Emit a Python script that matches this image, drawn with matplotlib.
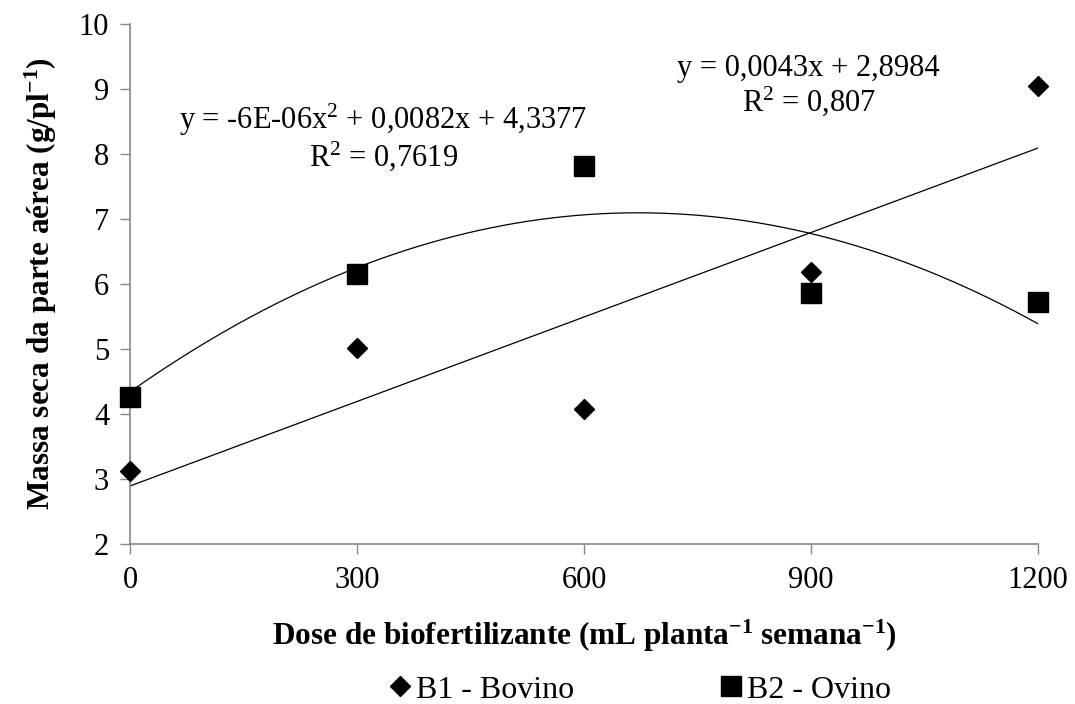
import numpy as np
import matplotlib
matplotlib.use("Agg")
import matplotlib.pyplot as plt
from matplotlib.lines import Line2D

plt.rcParams['font.family'] = ['Liberation Serif', 'DejaVu Serif']
plt.rcParams['mathtext.fontset'] = 'custom'
plt.rcParams['mathtext.rm'] = 'Liberation Serif'
plt.rcParams['mathtext.it'] = 'Liberation Serif:italic'
plt.rcParams['mathtext.bf'] = 'Liberation Serif:bold'

doses = [0, 300, 600, 900, 1200]
b1_bovino = [3.13, 5.02, 4.08, 6.18, 9.05]
b2_ovino = [4.26, 6.16, 7.82, 5.86, 5.72]
y_ticks = [2, 3, 4, 5, 6, 7, 8, 9, 10]
x_ticks = [0, 300, 600, 900, 1200]
eq_b1 = "y = 0,0043x + 2,8984\nR$^2$ = 0,807"
eq_b2 = "y = -6E-06x$^2$ + 0,0082x + 4,3377\nR$^2$ = 0,7619"

fig = plt.figure(figsize=(10.75, 7.04), dpi=100)
ax = fig.add_axes([0.1209, 0.2273, 0.8447, 0.7386])

x = np.array(doses, dtype=float)
xs = np.linspace(0, 1200, 300)
c1 = np.polyfit(x, b1_bovino, 1)
c2 = np.polyfit(x, b2_ovino, 2)
ax.plot(xs, np.polyval(c1, xs), color='black', lw=0.9, zorder=2)
ax.plot(xs, np.polyval(c2, xs), color='black', lw=0.9, zorder=2)

ax.plot(doses, b1_bovino, linestyle='none', marker='D', ms=10.5, color='black', clip_on=False, zorder=3)
ax.plot(doses, b2_ovino, linestyle='none', marker='s', ms=15, color='black', clip_on=False, zorder=3)

ax.set_xlim(0, 1200)
ax.set_ylim(2, 10)
ax.set_xticks(x_ticks)
ax.set_yticks(y_ticks)
ax.tick_params(axis='both', labelsize=22, color='#868686', length=7, width=1, direction='out')
ax.tick_params(axis='x', pad=9)
ax.tick_params(axis='y', pad=8)
for s in ['top', 'right']:
    ax.spines[s].set_visible(False)
for s in ['left', 'bottom']:
    ax.spines[s].set_color('#868686')
    ax.spines[s].set_linewidth(1.2)

ax.set_xlabel(r'Dose de biofertilizante (mL planta$^{\mathbf{-1}}$ semana$^{\mathbf{-1}}$)',
              fontsize=22.5, fontweight='bold', labelpad=16)
ax.set_ylabel(r'Massa seca da parte aérea (g/pl$^{\mathbf{-1}}$)',
              fontsize=22.5, fontweight='bold', labelpad=14)

ax.text(335, 8.25, eq_b2, ha='center', va='center', fontsize=22, linespacing=1.05)
ax.text(897, 9.05, eq_b1, ha='center', va='center', fontsize=22, linespacing=1.05)

handles = [Line2D([], [], linestyle='none', marker='D', ms=10, color='black'),
           Line2D([], [], linestyle='none', marker='s', ms=14, color='black')]
fig.legend(handles, ['B1 - Bovino', 'B2 - Ovino'], loc='center', bbox_to_anchor=(0.593, 0.02),
           ncol=2, frameon=False, fontsize=23, columnspacing=4.4, handletextpad=0.0,
           handlelength=1.0, borderpad=0.0)

fig.savefig('out.png', dpi=100)
